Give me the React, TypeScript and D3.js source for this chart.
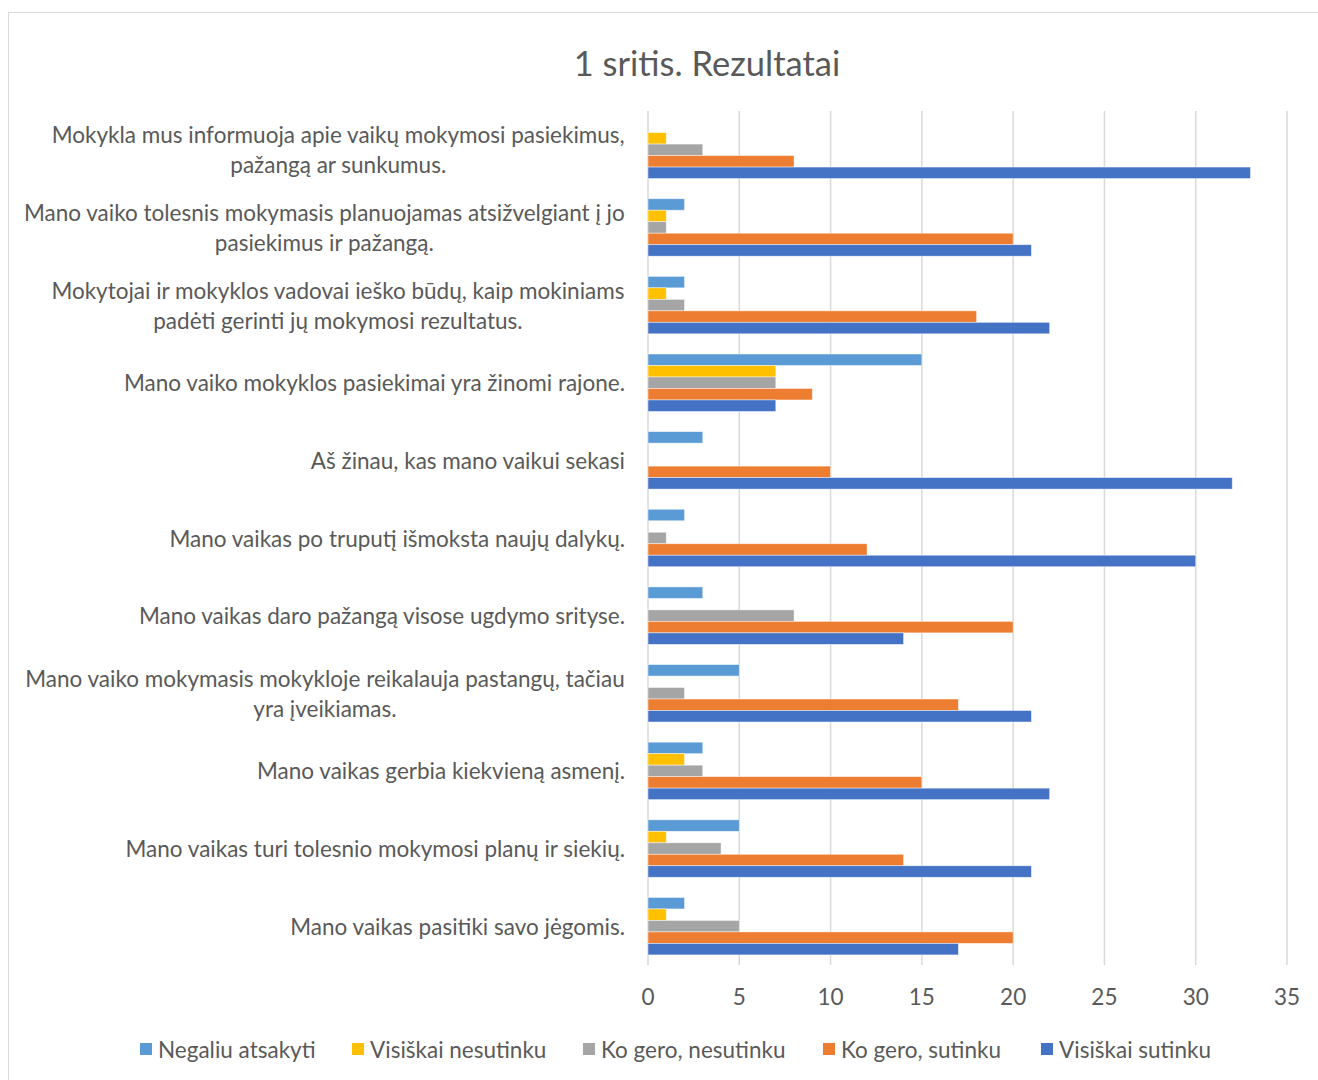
import React from "react";
import * as d3 from "d3";

const categories: string[] = [
  "Mokykla mus informuoja apie vaikų mokymosi pasiekimus,\npažangą ar sunkumus.",
  "Mano vaiko tolesnis mokymasis planuojamas atsižvelgiant į jo\npasiekimus ir pažangą.",
  "Mokytojai ir mokyklos vadovai ieško būdų, kaip mokiniams\npadėti gerinti jų mokymosi rezultatus.",
  "Mano vaiko mokyklos pasiekimai yra žinomi rajone.",
  "Aš žinau, kas mano vaikui sekasi",
  "Mano vaikas po truputį išmoksta naujų dalykų.",
  "Mano vaikas daro pažangą visose ugdymo srityse.",
  "Mano vaiko mokymasis mokykloje reikalauja pastangų, tačiau\nyra įveikiamas.",
  "Mano vaikas gerbia kiekvieną asmenį.",
  "Mano vaikas turi tolesnio mokymosi planų ir siekių.",
  "Mano vaikas pasitiki savo jėgomis.",
];

const seriesNames: string[] = [
  "Negaliu atsakyti",
  "Visiškai nesutinku",
  "Ko gero, nesutinku",
  "Ko gero, sutinku",
  "Visiškai sutinku",
];

const negaliuAtsakyti: number[] = [0, 2, 2, 15, 3, 2, 3, 5, 3, 5, 2];
const visiskaiNesutinku: number[] = [1, 1, 1, 7, 0, 0, 0, 0, 2, 1, 1];
const koGeroNesutinku: number[] = [3, 1, 2, 7, 0, 1, 8, 2, 3, 4, 5];
const koGeroSutinku: number[] = [8, 20, 18, 9, 10, 12, 20, 17, 15, 14, 20];
const visiskaiSutinku: number[] = [33, 21, 22, 7, 32, 30, 14, 21, 22, 21, 17];

const xTicks: number[] = [0, 5, 10, 15, 20, 25, 30, 35];

const seriesValues = [negaliuAtsakyti, visiskaiNesutinku, koGeroNesutinku, koGeroSutinku, visiskaiSutinku];
const colors = ["#5B9BD5", "#FFC000", "#A5A5A5", "#ED7D31", "#4472C4"];

const FONT = "Lato, 'Open Sans', sans-serif";
const TEXT = "#595959";

function measure(text: string, size: number): number {
  const c = document.createElement("canvas");
  const ctx = c.getContext("2d");
  if (!ctx) return text.length * size * 0.5;
  ctx.font = `${size}px ${FONT}`;
  return ctx.measureText(text).width;
}

export default function App() {
  const W = 1318;
  const H = 1080;
  const x = d3.scaleLinear().domain([0, 35]).range([648, 1287]);
  const y = d3
    .scaleBand<number>()
    .domain(d3.range(categories.length))
    .range([111, 965])
    .paddingInner(0.26)
    .paddingOuter(0.13);
  const inner = d3
    .scaleBand<number>()
    .domain(d3.range(seriesNames.length))
    .range([0, y.bandwidth()]);

  const labelSize = 22.5;
  const labelRight = 625;

  const legendY = 1049;
  const legendStarts = [140, 352, 583, 823, 1041];

  return (
    <svg
      width={W}
      height={H}
      style={{ position: "absolute", left: 0, top: 0, background: "#fff" }}
      fontFamily={FONT}
    >
      <rect x={8.5} y={12.5} width={W + 10} height={H + 10} fill="#fff" stroke="#d9d9d9" strokeWidth={1} />
      <text x={707} y={62} textAnchor="middle" dominantBaseline="central" fontSize={34.5} fill={TEXT}>
        1 sritis. Rezultatai
      </text>

      {xTicks.map((t) => (
        <g key={t}>
          <line x1={x(t)} x2={x(t)} y1={111} y2={965} stroke="#d9d9d9" strokeWidth={1.5} />
          <text x={x(t)} y={996} textAnchor="middle" dominantBaseline="central" fontSize={22.5} fill={TEXT}>
            {t}
          </text>
        </g>
      ))}

      {categories.map((cat, i) => {
        const y0 = y(i)!;
        const cy = y0 + y.bandwidth() / 2;
        const lines = cat.split("\n");
        const maxW = Math.max(...lines.map((l) => measure(l, labelSize)));
        const cx = labelRight - maxW / 2;
        const lh = 30;
        return (
          <g key={i}>
            {lines.map((l, k) => (
              <text
                key={k}
                x={lines.length > 1 ? cx : labelRight}
                y={cy + (k - (lines.length - 1) / 2) * lh}
                textAnchor={lines.length > 1 ? "middle" : "end"}
                dominantBaseline="central"
                fontSize={labelSize}
                fill={TEXT}
              >
                {l}
              </text>
            ))}
            {seriesValues.map((vals, s) =>
              vals[i] > 0 ? (
                <rect
                  key={s}
                  x={x(0)}
                  y={y0 + inner(s)!}
                  width={x(vals[i]) - x(0)}
                  height={inner.bandwidth()}
                  fill={colors[s]}
                  stroke="#fff"
                  strokeOpacity={0.6}
                  strokeWidth={0.75}
                />
              ) : null
            )}
          </g>
        );
      })}

      {seriesNames.map((n, s) => (
        <g key={n}>
          <rect x={legendStarts[s]} y={legendY - 6} width={12} height={12} fill={colors[s]} />
          <text x={legendStarts[s] + 18} y={legendY} dominantBaseline="central" fontSize={22.5} fill={TEXT}>
            {n}
          </text>
        </g>
      ))}
    </svg>
  );
}
